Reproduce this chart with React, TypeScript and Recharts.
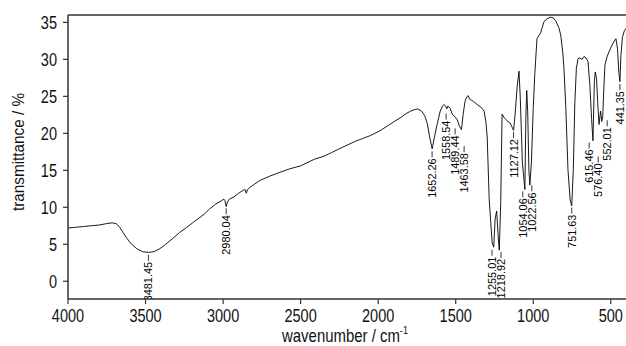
import { ComposedChart, Line, Scatter, XAxis, YAxis, ReferenceLine, Label } from 'recharts';

// IR spectrum (wavenumber in cm-1, transmittance in %)
const wavenumbers = [
  4000, 3950, 3900, 3850, 3800, 3750, 3715, 3690, 3670, 3645, 3620, 3590, 3556, 3520, 3481, 3445,
  3408, 3370, 3324, 3280, 3234, 3190, 3151, 3120, 3086, 3050, 3010, 2995, 2988, 2980, 2972, 2960,
  2930, 2900, 2870, 2858, 2850, 2843, 2820, 2765, 2700, 2650, 2571, 2500, 2411, 2350, 2300, 2252,
  2200, 2150, 2100, 2050, 1992, 1940, 1896, 1850, 1818, 1790, 1767, 1745, 1720, 1700, 1683, 1668,
  1652, 1636, 1619, 1600, 1585, 1574, 1563, 1558, 1550, 1536, 1523, 1503, 1489, 1477, 1463, 1452,
  1440, 1430, 1420, 1410, 1400, 1385, 1362, 1335, 1317, 1305, 1297, 1284, 1265, 1255, 1246, 1236,
  1226, 1219, 1210, 1201, 1190, 1169, 1150, 1138, 1127, 1117, 1103, 1092, 1084, 1070, 1054, 1048,
  1042, 1036, 1028, 1022, 1012, 1000, 990, 976, 952, 931, 910, 890, 870, 855, 835, 823,
  810, 802, 790, 776, 762, 752, 742, 732, 722, 711, 700, 686, 673, 660, 647, 635,
  624, 615, 606, 600, 592, 584, 576, 566, 558, 552, 545, 538, 525, 512, 495, 480,
  467, 457, 448, 441, 435, 425, 412, 402,
];
const transmittance = [
  7.2, 7.3, 7.4, 7.5, 7.6, 7.8, 7.9, 7.8, 7.4, 6.6, 5.8, 5.0, 4.4, 4.0, 3.9, 4.0,
  4.4, 5.0, 5.8, 6.6, 7.3, 8.0, 8.6, 9.1, 9.8, 10.4, 10.9, 11.1, 10.9, 10.1, 10.7, 11.1,
  11.4, 11.9, 12.3, 12.4, 11.9, 12.4, 12.8, 13.6, 14.2, 14.6, 15.2, 15.6, 16.5, 16.9, 17.4, 17.9,
  18.4, 18.9, 19.3, 19.7, 20.3, 21.0, 21.6, 22.2, 22.7, 23.0, 23.2, 23.3, 23.0, 22.4, 21.3, 19.5,
  17.9, 19.6, 21.3, 23.0, 23.7, 23.9, 23.6, 23.3, 23.7, 23.4, 22.6, 22.2, 21.8, 21.0, 20.5, 22.6,
  24.3, 24.9, 25.1, 24.6, 24.5, 24.3, 23.9, 23.5, 23.0, 21.5, 19.5, 11.0, 5.2, 4.6, 8.4, 9.5,
  6.0, 4.2, 10.5, 22.6, 22.2, 21.7, 21.4, 20.9, 20.4, 22.6, 26.5, 28.4, 25.0, 16.0, 12.4, 22.0,
  25.8, 23.0, 15.0, 13.0, 16.0, 23.5, 28.0, 32.8, 33.6, 35.1, 35.5, 35.7, 35.6, 35.2, 34.3, 33.3,
  31.0, 28.8, 23.5, 15.0, 11.0, 10.2, 15.0, 24.0, 28.8, 30.1, 30.2, 30.0, 30.4, 30.2, 29.7, 26.5,
  22.0, 19.0, 27.0, 28.3, 27.4, 24.0, 21.2, 23.0, 21.6, 22.3, 26.0, 29.2, 30.3, 31.0, 31.8, 32.4,
  32.8, 31.5, 28.2, 27.0, 30.5, 33.0, 33.9, 34.2,
];

// peak annotations
const peakWavenumbers = [3481.45, 2980.04, 1652.26, 1558.54, 1489.44, 1463.58, 1255.01, 1218.92, 1127.12, 1054.06, 1022.56, 751.63, 615.46, 576.4, 552.01, 441.35];
const peakLabels = ['3481.45', '2980.04', '1652.26', '1558.54', '1489.44', '1463.58', '1255.01', '1218.92', '1127.12', '1054.06', '1022.56', '751.63', '615.46', '576.40', '552.01', '441.35'];
const peakLevels = [3.7, 10.0, 17.7, 22.8, 20.8, 18.4, 4.4, 4.1, 20.3, 12.3, 13.1, 10.1, 18.9, 17.0, 21.9, 26.8];

const xTicks = [4000, 3500, 3000, 2500, 2000, 1500, 1000, 500];
const yTicks = [0, 5, 10, 15, 20, 25, 30, 35];
const xDomain = [402, 4000];
const yDomain = [-2.4, 36];

const PLOT_WIDTH = 558;
const LABEL_GAP_PX = 9;

// push crowded peak labels apart (keeps each group centred on its peaks)
function spreadLabels(wns: number[]) {
  const gap = (LABEL_GAP_PX * (xDomain[1] - xDomain[0])) / PLOT_WIDTH;
  let groups = wns.map((w) => ({ members: [w], center: w }));
  let changed = true;
  while (changed) {
    changed = false;
    for (let i = 0; i < groups.length - 1; i++) {
      const a = groups[i];
      const b = groups[i + 1];
      const aLow = a.center - ((a.members.length - 1) * gap) / 2;
      const bHigh = b.center + ((b.members.length - 1) * gap) / 2;
      if (aLow - bHigh < gap) {
        const members = [...a.members, ...b.members];
        const center = members.reduce((s, v) => s + v, 0) / members.length;
        groups.splice(i, 2, { members, center });
        changed = true;
        break;
      }
    }
  }
  return groups.flatMap((g) => g.members.map((_, k) => g.center + ((g.members.length - 1) / 2 - k) * gap));
}

const spectrum = wavenumbers.map((wn, i) => ({ wn, t: transmittance[i] }));
const labelPositions = spreadLabels(peakWavenumbers);
const peaks = peakWavenumbers.map((_, i) => ({ wn: labelPositions[i], t: peakLevels[i], label: peakLabels[i] }));

const FONT = '"Liberation Sans", Arial, sans-serif';
const AXIS = '#333';

const XTick = ({ x, y, payload }: any) => (
  <text transform={`translate(${x},${y}) scale(0.83,1)`} textAnchor="middle" dy="0.71em" fontSize={17.5} fontFamily={FONT} fill="#111">
    {payload.value}
  </text>
);

const YTick = ({ x, y, payload }: any) => (
  <text transform={`translate(${x},${y}) scale(0.83,1)`} textAnchor="end" dy="0.36em" fontSize={17.5} fontFamily={FONT} fill="#111">
    {payload.value}
  </text>
);

const PeakLabel = ({ cx, cy, payload }: any) => {
  if (cx == null || cy == null) return null;
  return (
    <g>
      <line x1={cx} y1={cy + 1} x2={cx} y2={cy + 7} stroke="#000" strokeWidth={0.8} />
      <text transform={`translate(${cx + 4},${cy + 8}) rotate(-90) scale(0.95,1)`} textAnchor="end" fontSize={11.5} fontFamily={FONT} fill="#000">
        {payload.label}
      </text>
    </g>
  );
};

const XTitle = ({ viewBox }: any) => {
  const cx = viewBox.x + viewBox.width / 2;
  return (
    <text transform={`translate(${cx - 2},342) scale(0.83,1)`} textAnchor="middle" fontSize={18} fontFamily={FONT} fill="#111">
      <tspan>wavenumber / cm</tspan>
      <tspan dy={-8} fontSize={11}>-1</tspan>
    </text>
  );
};

const YTitle = ({ viewBox }: any) => {
  const cy = viewBox.y + viewBox.height / 2 - 5;
  return (
    <text transform={`translate(24,${cy}) rotate(-90) scale(0.9,1)`} textAnchor="middle" fontSize={17} fontFamily={FONT} fill="#111">
      transmittance / %
    </text>
  );
};

export default function App() {
  return (
    <div style={{ position: 'absolute', left: 0, top: 0, width: 626, height: 346, background: '#fff' }}>
      <ComposedChart width={626} height={346} data={spectrum} margin={{ top: 15, right: 0, bottom: 0, left: 0 }}>
        <XAxis
          type="number"
          dataKey="wn"
          domain={xDomain}
          reversed
          allowDataOverflow
          ticks={xTicks}
          interval={0}
          height={47}
          tickSize={5}
          tickMargin={6}
          tick={<XTick />}
          axisLine={{ stroke: AXIS, strokeWidth: 1.5 }}
          tickLine={{ stroke: AXIS, strokeWidth: 1.2 }}
        >
          <Label content={<XTitle />} />
        </XAxis>
        <YAxis
          type="number"
          domain={yDomain}
          allowDataOverflow
          ticks={yTicks}
          interval={0}
          width={68}
          tickSize={5}
          tickMargin={6}
          tick={<YTick />}
          axisLine={{ stroke: AXIS, strokeWidth: 1.5 }}
          tickLine={{ stroke: AXIS, strokeWidth: 1.2 }}
        >
          <Label content={<YTitle />} />
        </YAxis>
        <ReferenceLine y={yDomain[1]} stroke={AXIS} strokeWidth={1.5} />
        <Line type="linear" dataKey="t" stroke="#000" strokeWidth={0.9} dot={false} activeDot={false} isAnimationActive={false} />
        <Scatter data={peaks} dataKey="t" shape={<PeakLabel />} isAnimationActive={false} />
      </ComposedChart>
    </div>
  );
}
